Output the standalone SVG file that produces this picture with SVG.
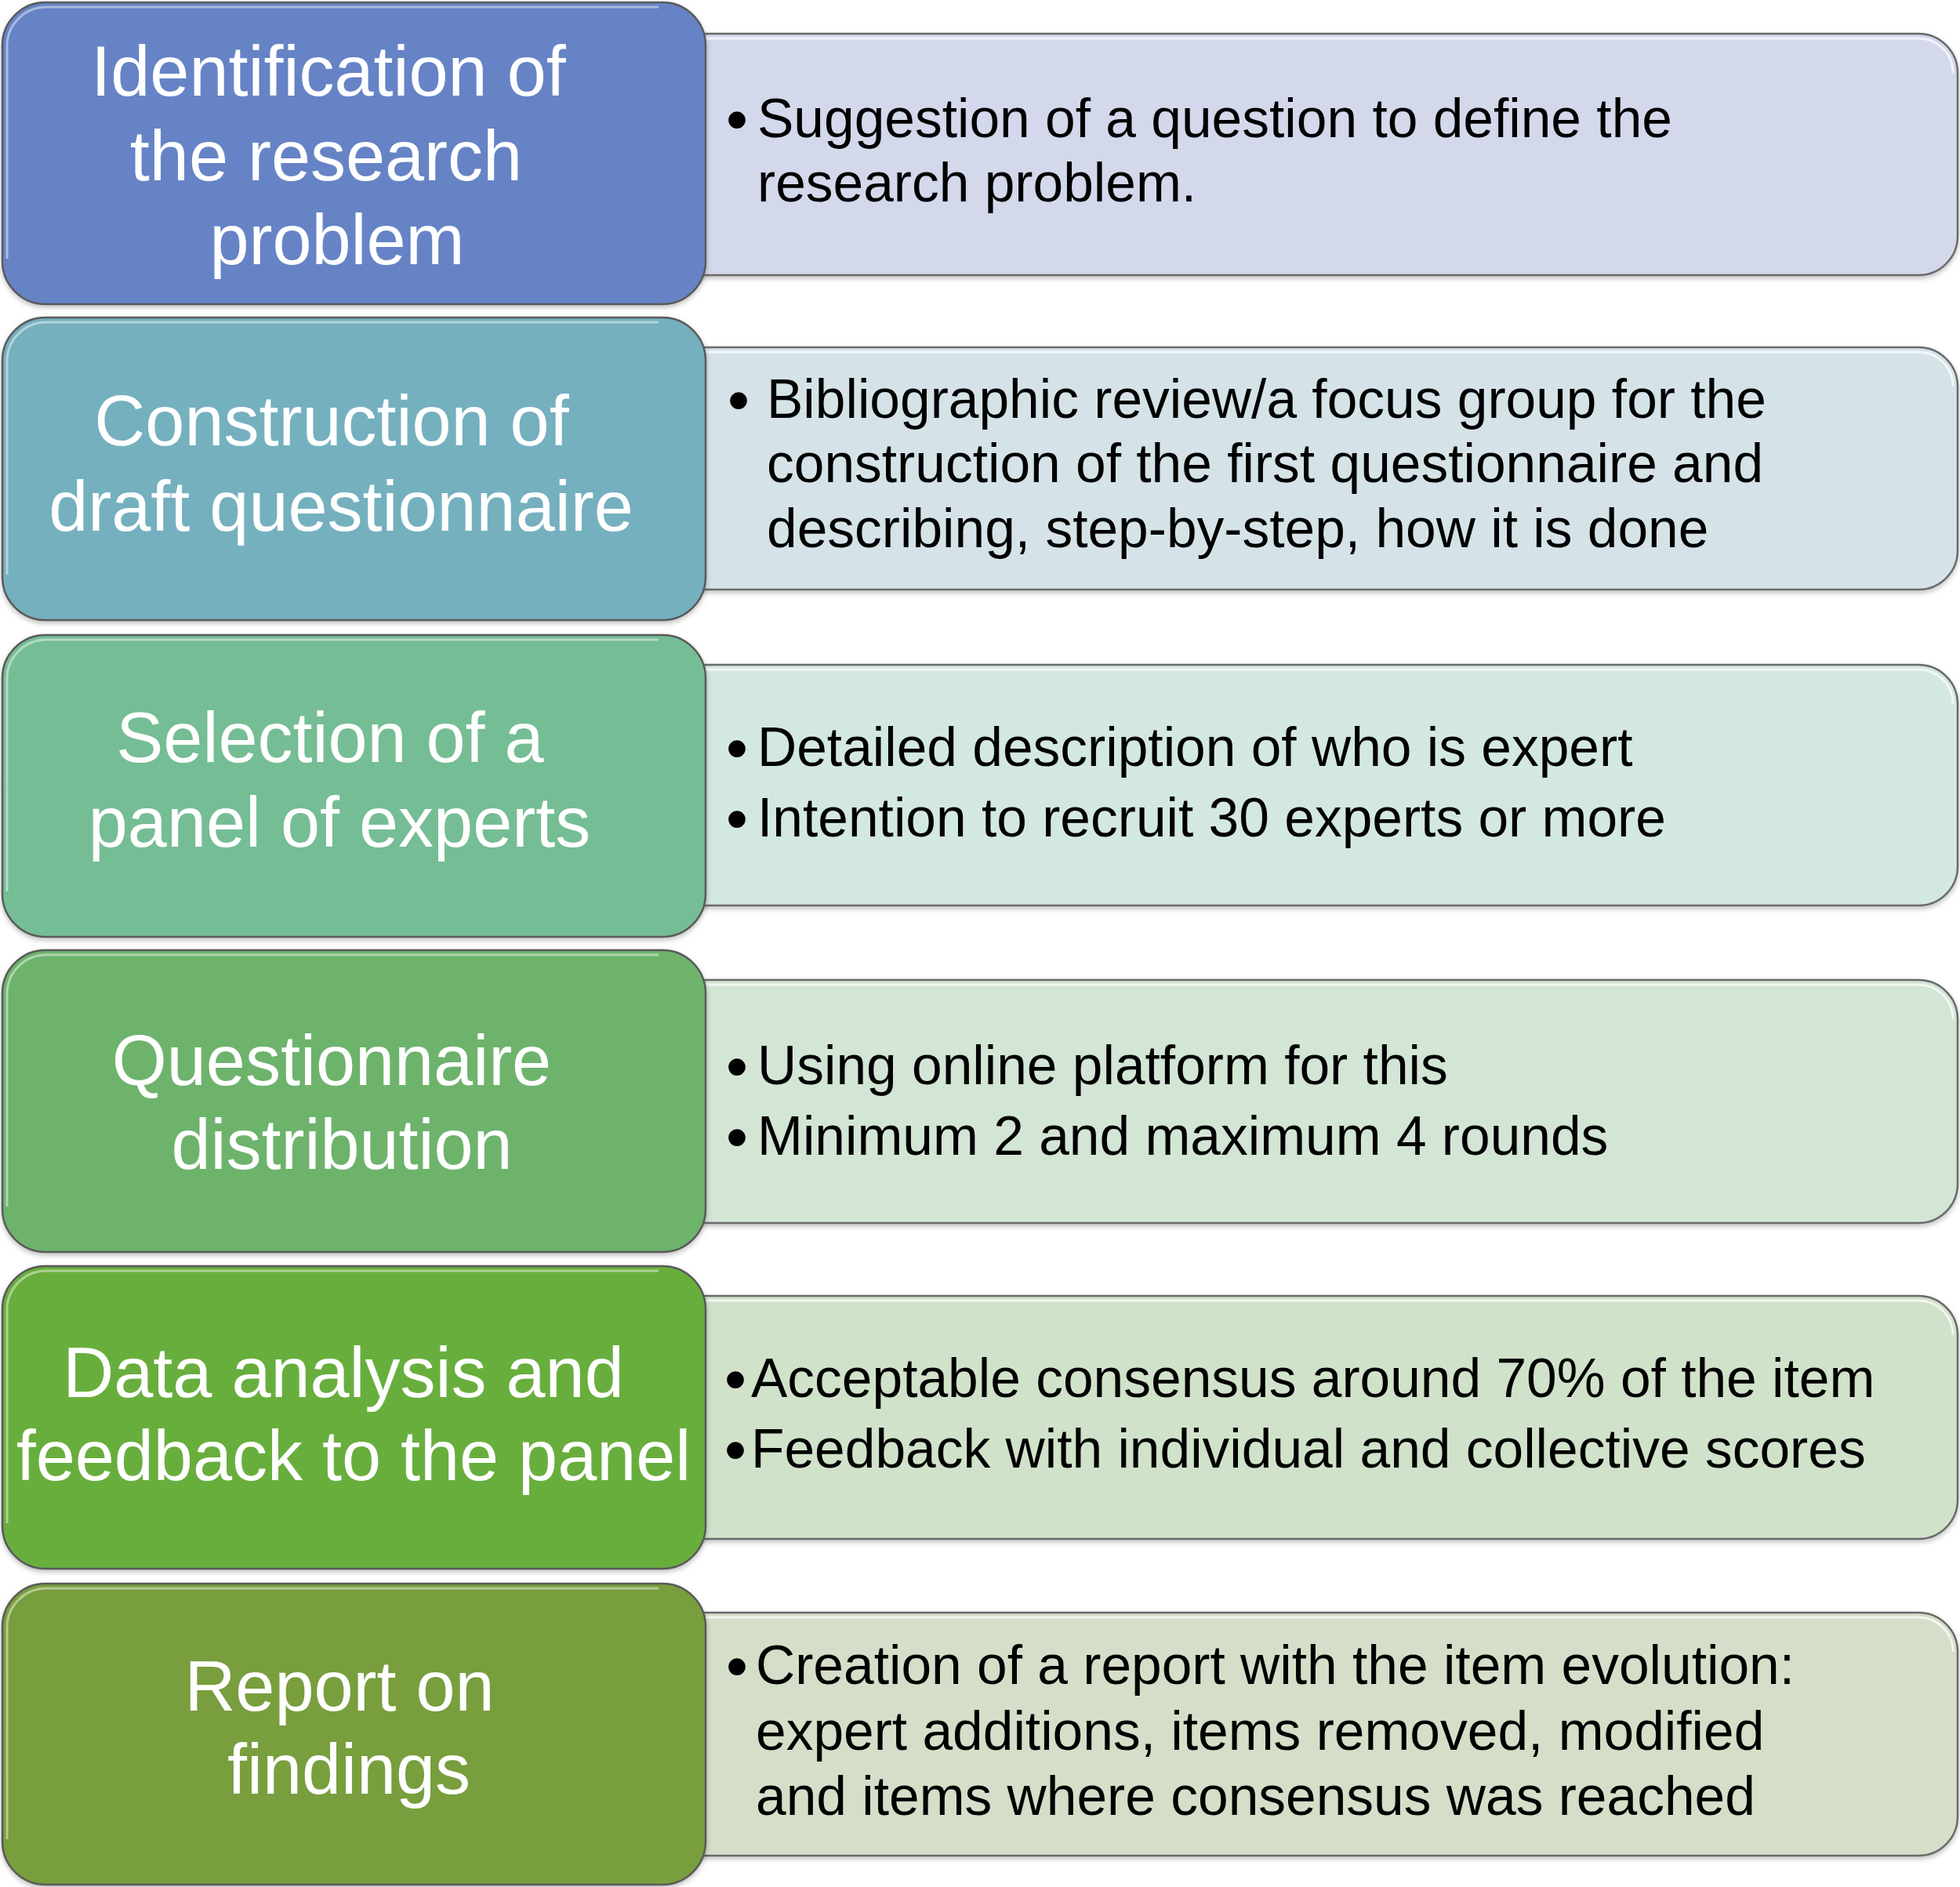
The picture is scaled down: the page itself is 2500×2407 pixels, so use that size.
<svg xmlns="http://www.w3.org/2000/svg" width="2500" height="2407" viewBox="0 0 2500 2407">
<defs>
<style>
.lb{stroke:#5a5a5a;stroke-width:2.5}
.lhi{fill:none;stroke:#ffffff;stroke-opacity:0.45;stroke-width:3}
.rb{stroke:#6a6a6a;stroke-width:2.5}
.rhi{fill:none;stroke:#ffffff;stroke-opacity:0.7;stroke-width:3}
.lt{font-family:"Liberation Sans",Arial,Helvetica,sans-serif;font-size:90px;fill:#ffffff;text-anchor:middle}
.rt{font-family:"Liberation Sans",Arial,Helvetica,sans-serif;font-size:69.5px;fill:#000000}
.bu{font-family:"Liberation Sans",Arial,Helvetica,sans-serif;font-size:80px;fill:#000000;text-anchor:middle}
</style>
<filter id="sh" x="-5%" y="-5%" width="110%" height="115%">
<feDropShadow dx="0" dy="3" stdDeviation="3" flood-color="#000" flood-opacity="0.25"/>
</filter>
</defs>

<g id="details">
<g id="detail1">
<path class="rb" fill="#D3D8EB" filter="url(#sh)" d="M880,43 H2447 A50,50 0 0 1 2497,93 V301 A50,50 0 0 1 2447,351 H880 Z"/>
<path class="rhi" d="M900,49 H2444 A44,44 0 0 1 2491,93"/>
<text class="bu" x="940" y="180">•</text>
<text class="rt" x="966" y="175">Suggestion of a question to define the</text>
<text class="rt" x="966" y="257">research problem.</text>
</g>
<g id="detail2">
<path class="rb" fill="#D5E3E8" filter="url(#sh)" d="M880,443 H2447 A50,50 0 0 1 2497,493 V702 A50,50 0 0 1 2447,752 H880 Z"/>
<path class="rhi" d="M900,449 H2444 A44,44 0 0 1 2491,493"/>
<text class="bu" x="942" y="538">•</text>
<text class="rt" x="978" y="533">Bibliographic review/a focus group for the</text>
<text class="rt" x="978" y="615">construction of the first questionnaire and</text>
<text class="rt" x="978" y="698">describing, step-by-step, how it is done</text>
</g>
<g id="detail3">
<path class="rb" fill="#D4E8E2" filter="url(#sh)" d="M880,848 H2447 A50,50 0 0 1 2497,898 V1105 A50,50 0 0 1 2447,1155 H880 Z"/>
<path class="rhi" d="M900,854 H2444 A44,44 0 0 1 2491,898"/>
<text class="bu" x="940" y="982">•</text>
<text class="rt" x="966" y="977">Detailed description of who is expert</text>
<text class="bu" x="940" y="1072">•</text>
<text class="rt" x="966" y="1067">Intention to recruit 30 experts or more</text>
</g>
<g id="detail4">
<path class="rb" fill="#D3E5D5" filter="url(#sh)" d="M880,1250 H2447 A50,50 0 0 1 2497,1300 V1510 A50,50 0 0 1 2447,1560 H880 Z"/>
<path class="rhi" d="M900,1256 H2444 A44,44 0 0 1 2491,1300"/>
<text class="bu" x="940" y="1388">•</text>
<text class="rt" x="966" y="1383">Using online platform for this</text>
<text class="bu" x="940" y="1478">•</text>
<text class="rt" x="966" y="1473">Minimum 2 and maximum 4 rounds</text>
</g>
<g id="detail5">
<path class="rb" fill="#D1E2CA" filter="url(#sh)" d="M880,1653 H2447 A50,50 0 0 1 2497,1703 V1913 A50,50 0 0 1 2447,1963 H880 Z"/>
<path class="rhi" d="M900,1659 H2444 A44,44 0 0 1 2491,1703"/>
<text class="bu" x="938" y="1787">•</text>
<text class="rt" x="958" y="1782">Acceptable consensus around 70% of the item</text>
<text class="bu" x="938" y="1877">•</text>
<text class="rt" x="958" y="1872">Feedback with individual and collective scores</text>
</g>
<g id="detail6">
<path class="rb" fill="#D5DEC8" filter="url(#sh)" d="M880,2057 H2447 A50,50 0 0 1 2497,2107 V2317 A50,50 0 0 1 2447,2367 H880 Z"/>
<path class="rhi" d="M900,2063 H2444 A44,44 0 0 1 2491,2107"/>
<text class="bu" x="940" y="2153">•</text>
<text class="rt" x="964" y="2148">Creation of a report with the item evolution:</text>
<text class="rt" x="964" y="2232">expert additions, items removed, modified</text>
<text class="rt" x="964" y="2315">and items where consensus was reached</text>
</g>
</g>

<g id="steps">
<g id="step1">
<rect class="lb" x="3" y="3" width="897" height="385" rx="55" fill="#6683C6" filter="url(#sh)"/>
<path class="lhi" d="M9,330 V60 A50,50 0 0 1 59,9 H840"/>
<text class="lt" x="419" y="122">Identification of</text>
<text class="lt" x="416" y="230">the research</text>
<text class="lt" x="430" y="337">problem</text>
</g>
<g id="step2">
<rect class="lb" x="3" y="405" width="897" height="386" rx="55" fill="#75B0BF" filter="url(#sh)"/>
<path class="lhi" d="M9,733 V462 A50,50 0 0 1 59,411 H840"/>
<text class="lt" x="423" y="568">Construction of</text>
<text class="lt" x="435" y="677">draft questionnaire</text>
</g>
<g id="step3">
<rect class="lb" x="3" y="810" width="897" height="385" rx="55" fill="#74BD94" filter="url(#sh)"/>
<path class="lhi" d="M9,1137 V867 A50,50 0 0 1 59,816 H840"/>
<text class="lt" x="421" y="972">Selection of a</text>
<text class="lt" x="433" y="1080">panel of experts</text>
</g>
<g id="step4">
<rect class="lb" x="3" y="1212" width="897" height="385" rx="55" fill="#6DB36C" filter="url(#sh)"/>
<path class="lhi" d="M9,1539 V1269 A50,50 0 0 1 59,1218 H840"/>
<text class="lt" x="423" y="1384">Questionnaire</text>
<text class="lt" x="436" y="1491">distribution</text>
</g>
<g id="step5">
<rect class="lb" x="3" y="1615" width="897" height="386" rx="55" fill="#67AE3E" filter="url(#sh)"/>
<path class="lhi" d="M9,1943 V1672 A50,50 0 0 1 59,1621 H840"/>
<text class="lt" x="438" y="1782">Data analysis and</text>
<text class="lt" x="451" y="1888">feedback to the panel</text>
</g>
<g id="step6">
<rect class="lb" x="3" y="2020" width="897" height="384" rx="55" fill="#789E3E" filter="url(#sh)"/>
<path class="lhi" d="M9,2346 V2077 A50,50 0 0 1 59,2026 H840"/>
<text class="lt" x="433" y="2182">Report on</text>
<text class="lt" x="445" y="2288">findings</text>
</g>
</g>

<g id="connectors"/>
</svg>
